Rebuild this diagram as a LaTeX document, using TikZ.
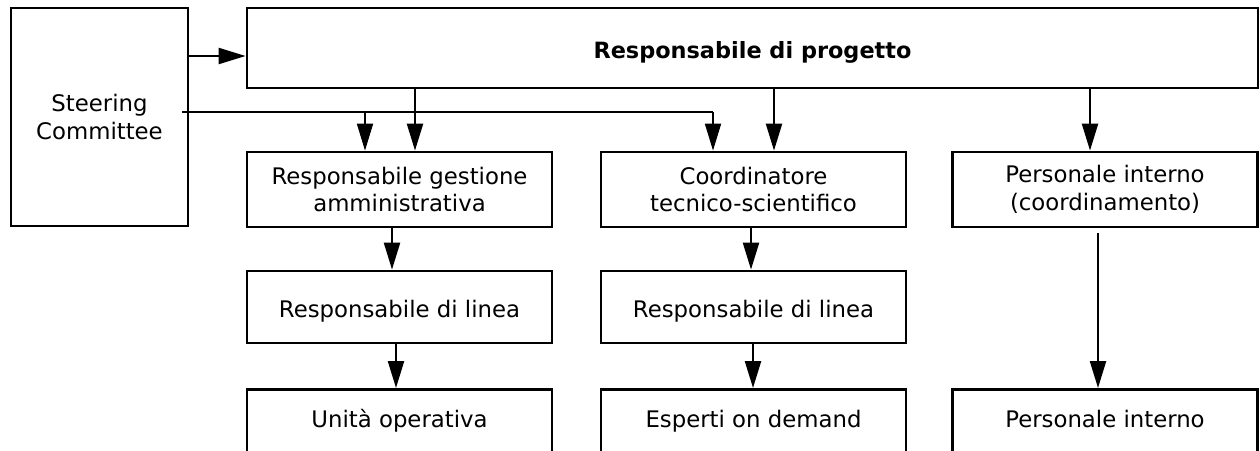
\documentclass[tikz,border=0pt]{standalone}
\usepackage{fontspec}
\setmainfont{DejaVu Sans}
\usetikzlibrary{arrows.meta}
\begin{document}
\begin{tikzpicture}[x=1pt,y=-1pt,
  box/.style={draw,line width=2.8pt,inner sep=0pt,align=center,
    font=\fontsize{22.8}{27.5}\selectfont},
  oneline/.style={text height=20pt,text depth=0pt},
  colbox/.style={box,minimum width=305pt,minimum height=75pt},
  lowbox/.style={box,oneline,anchor=north,minimum width=305pt,inner ysep=18pt,text depth=60pt},
  arr/.style={line width=2.3pt,-{Triangle[length=27pt,width=16pt]}},
  sarr/.style={arr,line width=1.8pt},
  sline/.style={line width=1.8pt},
]
\clip (0,0) rectangle (1260,450);
\fill[white] (0,0) rectangle (1260,450);
% nodes
\node[box,minimum width=177pt,minimum height=218pt] (SC) at (99.5,117) {Steering\\Committee};
\node[box,oneline,minimum width=1011pt,minimum height=80pt,font=\fontsize{22.4}{27.5}\selectfont\bfseries] (RdP) at (752.5,48) {Responsabile di progetto};
\node[colbox] (RGA) at (399.5,189.5) {Responsabile gestione\\amministrativa};
\node[colbox] (CTS) at (753.5,189.5) {Coordinatore\\tecnico-scientifico};
\node[colbox] (PIC) at (1105,189.5) {Personale interno\\(coordinamento)};
\node[colbox,oneline,minimum height=72pt] (RL1) at (399.5,307) {Responsabile di linea};
\node[colbox,oneline,minimum height=72pt] (RL2) at (753.5,307) {Responsabile di linea};
\node[lowbox] (UO) at (399.5,388) {Unità operativa};
\node[lowbox] (ESP) at (753.5,388) {Esperti on demand};
\node[lowbox] (PI) at (1105,388) {Personale interno};
% Steering -> Responsabile di progetto
\path ([yshift=-8pt]RdP.west) coordinate (h1);
\draw[arr] (SC.east |- h1) -- (h1);
% Responsabile di progetto -> first row
\path ([xshift=15.5pt]RGA.north) coordinate (r1)
      ([xshift=20.5pt]CTS.north) coordinate (r2)
      ([xshift=-15pt]PIC.north) coordinate (r3);
\draw[arr] (r1 |- RdP.south) -- (r1);
\draw[arr] (r2 |- RdP.south) -- (r2);
\draw[arr] (r3 |- RdP.south) -- (r3);
% Steering committee line
\path ([xshift=-7pt,yshift=5pt]SC.east) coordinate (s0);
\path ([xshift=-34.5pt]RGA.north) coordinate (s1)
      ([xshift=-40.5pt]CTS.north) coordinate (s2);
\draw[sline] (s0) -- (s2 |- s0);
\draw[sarr] (s2 |- s0) -- (s2);
\draw[sarr] (s1 |- s0) -- (s1);
% vertical chains
\path ([xshift=-7.5pt]RGA.south) coordinate (a1)
      ([xshift=-3.5pt]RL1.south) coordinate (a2)
      ([xshift=-2.5pt]CTS.south) coordinate (b1)
      ([xshift=-0.5pt]RL2.south) coordinate (b2)
      ([xshift=-7pt]PIC.south) coordinate (c1);
\draw[arr] (a1) -- (a1 |- RL1.north);
\draw[arr] (a2) -- (a2 |- UO.north);
\draw[arr] (b1) -- (b1 |- RL2.north);
\draw[arr] (b2) -- (b2 |- ESP.north);
\draw[arr,shorten <=5pt] (c1) -- (c1 |- PI.north);
\end{tikzpicture}
\end{document}
